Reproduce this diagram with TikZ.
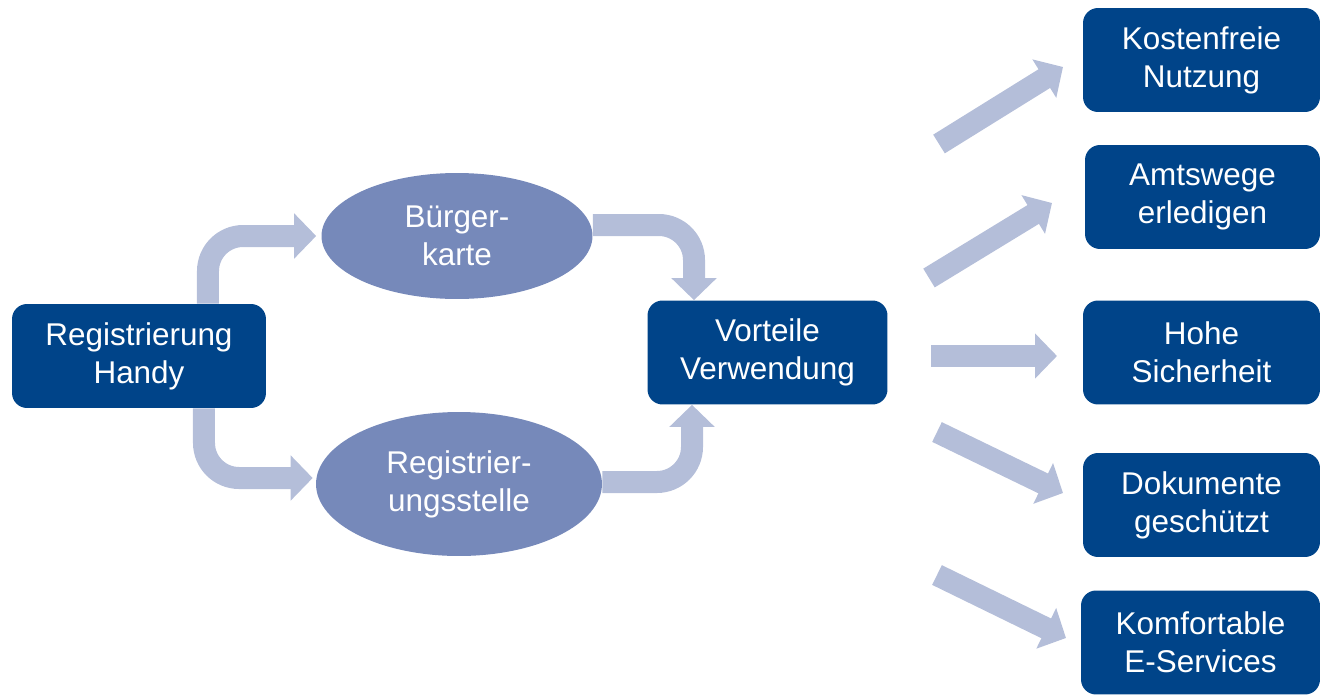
\documentclass[tikz,border=0pt]{standalone}
\usepackage{fontspec}
\setmainfont{Liberation Sans}
\usetikzlibrary{shapes.geometric,arrows.meta}
\definecolor{darkblue}{RGB}{0,68,137}
\definecolor{ovalblue}{RGB}{118,137,186}
\definecolor{flowblue}{RGB}{180,190,217}
\begin{document}
\begin{tikzpicture}[x=0.02cm,y=-0.02cm,
		every node/.style={text=white,align=center,inner sep=0pt,font=\fontsize{17.9}{21.5}\selectfont},
		box/.style={fill=darkblue,rounded corners=0.3cm,minimum width=4.8cm,minimum height=2.08cm},
		oval/.style={ellipse,fill=ovalblue},
		flow/.style={draw=flowblue,line width=0.44cm,-{Triangle[length=0.44cm,width=0.88cm]}}]
	\useasboundingbox (0,0) rectangle (1320,694);
	\node[box,minimum width=5.08cm] (handy) at (139,356) {Registrierung\\Handy};
	\node[oval,minimum width=5.42cm,minimum height=2.52cm] (buerger) at (457,236) {Bürger-\\karte};
	\node[oval,minimum width=5.72cm,minimum height=2.88cm] (stelle) at (459,484) {Registrier-\\ungsstelle};
	\node[box] (vorteile) at (767.5,352.5) {Vorteile\\Verwendung};
	\node[box,minimum width=4.74cm] (kosten) at (1201.5,60) {Kostenfreie\\Nutzung};
	\node[box,minimum width=4.70cm] (amt) at (1202.5,197) {Amtswege\\erledigen};
	\node[box,minimum width=4.74cm] (sicher) at (1201.5,352.5) {Hohe\\Sicherheit};
	\node[box,minimum width=4.74cm] (doku) at (1201.5,505) {Dokumente\\geschützt};
	\node[box,minimum width=4.78cm] (komfort) at (1200.5,642.5) {Komfortable\\E-Services};
	\draw[flow,rounded corners=20] ([xshift=1.38cm]handy.north) |- ([xshift=-0.1cm]buerger.west);
	\draw[flow,rounded corners=20] ([xshift=1.30cm]handy.south) |- ([yshift=0.12cm,xshift=-0.06cm]stelle.west);
	\draw[flow,rounded corners=20] ([yshift=0.22cm]buerger.east) -| ([xshift=-1.47cm]vorteile.north);
	\draw[flow,rounded corners=20] ([yshift=0.04cm]stelle.east) -| ([xshift=-1.51cm]vorteile.south);
	\coordinate (t1) at (939,144); \coordinate (h1) at (1063,67);
	\coordinate (t2) at (929,278); \coordinate (h2) at (1052,203);
	\coordinate (t3) at (931,356); \coordinate (h3) at (1057,356);
	\coordinate (t4) at (937,432); \coordinate (h4) at (1063,493);
	\coordinate (t5) at (937,575); \coordinate (h5) at (1066,638);
	\foreach \i in {1,...,5}
		\draw[flow] (t\i) -- (h\i);
\end{tikzpicture}
\end{document}
